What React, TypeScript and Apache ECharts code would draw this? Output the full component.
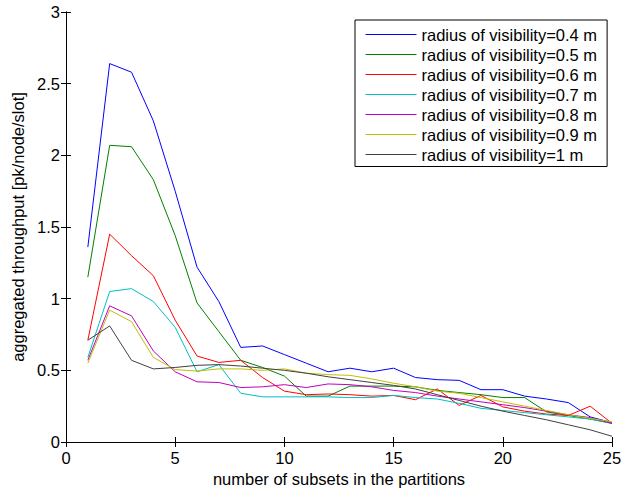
import React, { useEffect, useRef } from "react";
import * as echarts from "echarts";

const xValues = [1,2,3,4,5,6,7,8,9,10,11,12,13,14,15,16,17,18,19,20,21,22,23,24,25];
const seriesNames = [
  "radius of visibility=0.4 m",
  "radius of visibility=0.5 m",
  "radius of visibility=0.6 m",
  "radius of visibility=0.7 m",
  "radius of visibility=0.8 m",
  "radius of visibility=0.9 m",
  "radius of visibility=1 m",
];
const r04 = [1.36, 2.64, 2.58, 2.24, 1.75, 1.22, 0.98, 0.66, 0.67, 0.61, 0.55, 0.49, 0.515, 0.49, 0.515, 0.45, 0.435, 0.43, 0.365, 0.365, 0.32, 0.30, 0.275, 0.175, 0.135];
const r05 = [1.15, 2.07, 2.06, 1.83, 1.44, 0.97, 0.77, 0.57, 0.52, 0.46, 0.32, 0.32, 0.39, 0.39, 0.39, 0.385, 0.36, 0.345, 0.33, 0.31, 0.31, 0.21, 0.185, 0.16, 0.13];
const r06 = [0.71, 1.45, 1.30, 1.16, 0.85, 0.60, 0.555, 0.57, 0.45, 0.355, 0.33, 0.335, 0.33, 0.32, 0.325, 0.295, 0.37, 0.255, 0.325, 0.245, 0.215, 0.195, 0.185, 0.25, 0.13];
const r07 = [0.59, 1.05, 1.07, 0.98, 0.80, 0.49, 0.54, 0.34, 0.315, 0.315, 0.315, 0.315, 0.31, 0.31, 0.325, 0.31, 0.30, 0.27, 0.235, 0.22, 0.205, 0.19, 0.175, 0.16, 0.13];
const r08 = [0.57, 0.95, 0.88, 0.635, 0.49, 0.42, 0.415, 0.38, 0.385, 0.40, 0.38, 0.405, 0.40, 0.385, 0.36, 0.345, 0.32, 0.30, 0.28, 0.26, 0.24, 0.215, 0.19, 0.17, 0.13];
const r09 = [0.55, 0.92, 0.84, 0.59, 0.505, 0.495, 0.51, 0.51, 0.50, 0.51, 0.48, 0.47, 0.465, 0.44, 0.41, 0.385, 0.355, 0.34, 0.31, 0.28, 0.25, 0.22, 0.19, 0.165, 0.14];
const r10 = [0.71, 0.81, 0.57, 0.51, 0.52, 0.535, 0.54, 0.53, 0.515, 0.50, 0.48, 0.455, 0.435, 0.415, 0.395, 0.37, 0.33, 0.29, 0.25, 0.215, 0.185, 0.155, 0.12, 0.085, 0.04];
const allValues = [r04, r05, r06, r07, r08, r09, r10];
const colors = ["#0000ff", "#008000", "#ff0000", "#00bfbf", "#bf00bf", "#bfbf00", "#404040"];

const FONT = "Liberation Sans, Arial, Helvetica, sans-serif";
const FS = 16.5;

export default function App() {
  const ref = useRef<HTMLDivElement>(null);
  useEffect(() => {
    if (!ref.current) return;
    const chart = echarts.init(ref.current, undefined, { renderer: "svg" });
    const axisCommon = {
      type: "value" as const,
      axisLine: { show: true, lineStyle: { color: "#000", width: 1 } },
      axisTick: { show: true, inside: true, length: 5, lineStyle: { color: "#000" } },
      splitLine: { show: false },
    };
    chart.setOption({
      animation: false,
      textStyle: { fontFamily: FONT },
      grid: { left: 66, top: 12, right: 25, bottom: 47, containLabel: false, outerBoundsMode: "none" },
      legend: {
        orient: "vertical",
        left: 355,
        top: 20,
        padding: [4.5, 10, 2, 10],
        itemWidth: 51,
        itemHeight: 14,
        itemGap: 0,
        itemStyle: { opacity: 0 },
        lineStyle: { width: 1 },
        backgroundColor: "#fff",
        borderColor: "#000",
        borderWidth: 1,
        borderRadius: 0,
        textStyle: { fontFamily: FONT, fontSize: FS, color: "#000", lineHeight: 20 },
        data: seriesNames,
      },
      xAxis: [
        {
          ...axisCommon,
          position: "bottom",
          min: 0,
          max: 25,
          interval: 5,
          name: "number of subsets in the partitions",
          nameLocation: "middle",
          nameGap: 27,
          nameTextStyle: { fontFamily: FONT, fontSize: FS, color: "#000" },
          axisLabel: { fontFamily: FONT, fontSize: FS, color: "#000", margin: 7 },
        },
        {
          ...axisCommon,
          position: "top",
          min: 0,
          max: 25,
          interval: 5,
          axisLabel: { show: false },
        },
      ],
      yAxis: [
        {
          ...axisCommon,
          position: "left",
          min: 0,
          max: 3,
          interval: 0.5,
          name: "aggregated throughput [pk/node/slot]",
          nameLocation: "middle",
          nameGap: 35,
          nameTextStyle: { fontFamily: FONT, fontSize: FS, color: "#000" },
          axisLabel: { fontFamily: FONT, fontSize: FS, color: "#000", margin: 6 },
        },
        {
          ...axisCommon,
          position: "right",
          min: 0,
          max: 3,
          interval: 0.5,
          axisLabel: { show: false },
        },
      ],
      series: allValues.map((vals, i) => ({
        name: seriesNames[i],
        type: "line",
        xAxisIndex: 0,
        yAxisIndex: 0,
        symbol: "none",
        showSymbol: false,
        lineStyle: { color: colors[i], width: 1 },
        itemStyle: { color: colors[i] },
        data: xValues.map((x, j) => [x, vals[j]]),
      })),
    });
    return () => chart.dispose();
  }, []);
  return <div ref={ref} style={{ width: 637, height: 489, position: "absolute", left: 0, top: 0, background: "#fff" }} />;
}
